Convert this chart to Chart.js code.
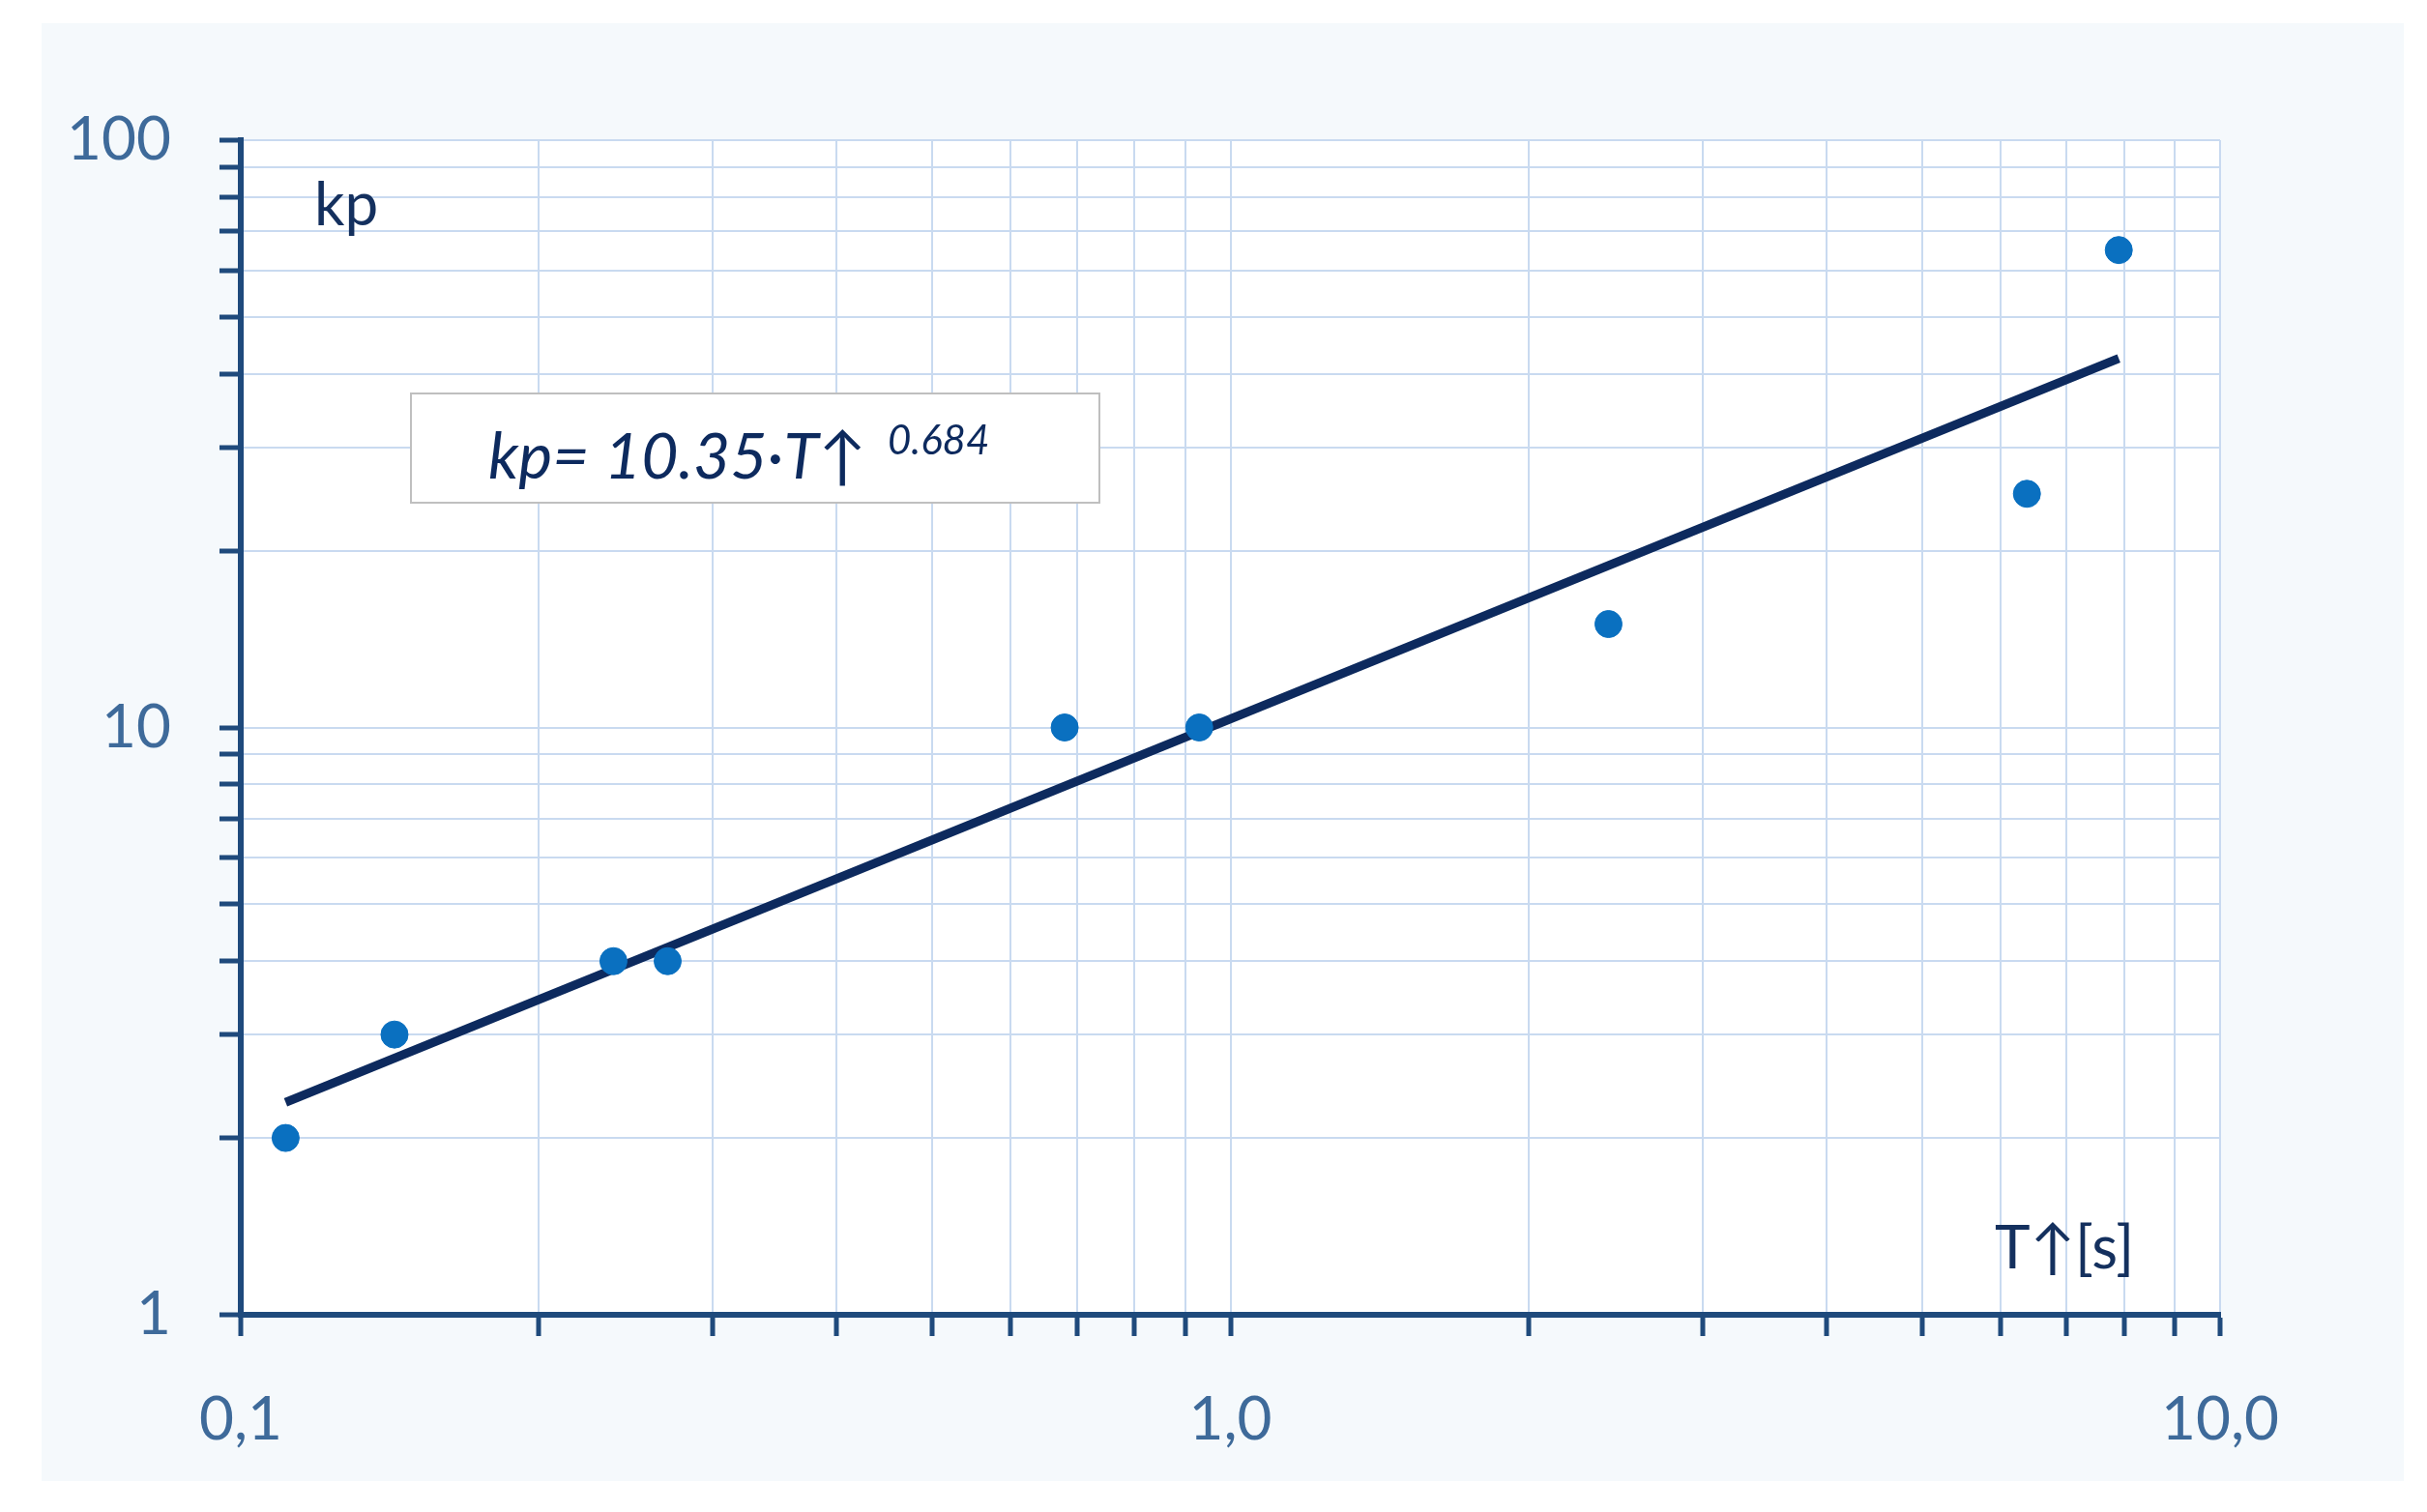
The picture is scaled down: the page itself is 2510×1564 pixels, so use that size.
<!DOCTYPE html>
<html>
<head>
<meta charset="utf-8">
<script src="https://cdn.jsdelivr.net/npm/chart.js@4"></script>
<style>
  html, body { margin: 0; padding: 0; background: #ffffff; }
</style>
</head>
<body>
<canvas id="chart_kp" width="2510" height="1564"></canvas>
<script>
// measured points (T in s, kp)
const periods = [0.111, 0.143, 0.238, 0.27, 0.68, 0.93, 2.41, 6.38, 7.9];
const gains = [2, 3, 4, 4, 10, 10, 15, 25, 65];
// trend line end points
const fitT = [0.111, 7.9];
const fitKp = [2.3, 42.5];
const yTicks = [1, 2, 3, 4, 5, 6, 7, 8, 9, 10, 20, 30, 40, 50, 60, 70, 80, 90, 100];
const xTicks = [0.1, 0.2, 0.3, 0.4, 0.5, 0.6, 0.7, 0.8, 0.9, 1, 2, 3, 4, 5, 6, 7, 8, 9, 10];

const FONT = "Lato, 'Open Sans', sans-serif";

const panelPlugin = {
  id: "panel_bg",
  beforeDraw(chart) {
    const c = chart.ctx;
    const a = chart.chartArea;
    c.save();
    c.fillStyle = "#f5f9fc";
    c.fillRect(43, 24, 2443, 1508);
    c.fillStyle = "#ffffff";
    c.fillRect(a.left, a.top, a.right - a.left, a.bottom - a.top);
    c.restore();
  },
  afterDraw(chart) {
    const c = chart.ctx;
    c.save();
    // axis labels
    c.fillStyle = "#14305e";
    c.font = "62px " + FONT;
    c.textBaseline = "alphabetic";
    c.fillText("kp", 325, 233);
    c.fillText("T\u2191[s]", 2063, 1312);
    // equation box
    c.fillStyle = "#ffffff";
    c.fillRect(425, 407, 712, 113);
    c.strokeStyle = "#bfbfbf";
    c.lineWidth = 2;
    c.strokeRect(425, 407, 712, 113);
    c.fillStyle = "#0d2a5e";
    c.font = "italic 66px " + FONT;
    const main = "kp= 10.35\u00b7T\u2191";
    c.fillText(main, 505, 495);
    const w = c.measureText(main).width;
    c.font = "italic 42px " + FONT;
    c.fillText("0.684", 505 + w + 22, 470);
    c.restore();
  },
};

const ctx = document.getElementById("chart_kp").getContext("2d");
new Chart(ctx, {
  type: "scatter",
  data: {
    datasets: [
      {
        type: "line",
        data: fitT.map((t, i) => ({ x: t, y: fitKp[i] })),
        borderColor: "#0d2a5e",
        borderWidth: 9,
        pointRadius: 0,
        fill: false,
        order: 2,
      },
      {
        data: periods.map((t, i) => ({ x: t, y: gains[i] })),
        backgroundColor: "#0a70c0",
        borderColor: "#0a70c0",
        pointRadius: 14,
        order: 1,
      },
    ],
  },
  options: {
    responsive: false,
    animation: false,
    devicePixelRatio: 1,
    layout: { padding: { left: 43, top: 145, right: 214, bottom: 32 } },
    plugins: { legend: { display: false }, tooltip: { enabled: false } },
    scales: {
      x: {
        type: "logarithmic",
        min: 0.1,
        max: 10,
        afterBuildTicks: (s) => { s.ticks = xTicks.map((v) => ({ value: v })); },
        afterFit: (s) => { s.height = 172; },
        border: { color: "#1f4a7c", width: 6 },
        grid: { color: "#c9daf0", lineWidth: 2, tickColor: "#1f4a7c", tickWidth: 5, tickLength: 22 },
        ticks: {
          autoSkip: false,
          maxRotation: 0,
          padding: 50,
          color: "#3e6a9a",
          font: { size: 62, family: FONT },
          callback: (v) => (v === 0.1 ? "0,1" : v === 1 ? "1,0" : v === 10 ? "10,0" : ""),
        },
      },
      y: {
        type: "logarithmic",
        min: 1,
        max: 100,
        afterBuildTicks: (s) => { s.ticks = yTicks.map((v) => ({ value: v })); },
        afterFit: (s) => { s.width = 206; },
        border: { color: "#1f4a7c", width: 6 },
        grid: { color: "#c9daf0", lineWidth: 2, tickColor: "#1f4a7c", tickWidth: 5, tickLength: 22 },
        ticks: {
          autoSkip: false,
          padding: 50,
          color: "#3e6a9a",
          font: { size: 62, family: FONT },
          callback: (v) => ([1, 10, 100].includes(v) ? String(v) : ""),
        },
      },
    },
  },
  plugins: [panelPlugin],
});
</script>
</body>
</html>
